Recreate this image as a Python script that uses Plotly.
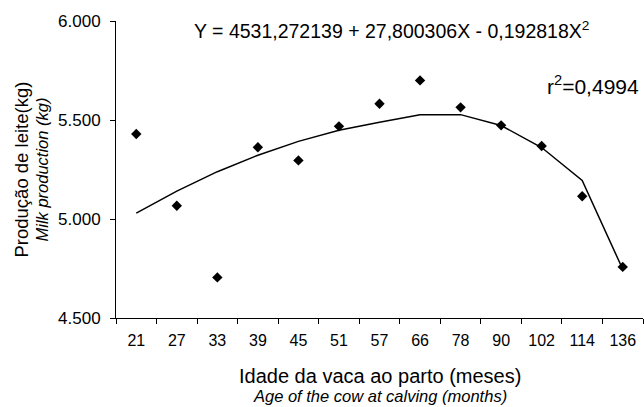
import plotly.graph_objects as go

ages = ["21", "27", "33", "39", "45", "51", "57", "66", "78", "90", "102", "114", "136"]
observed = [5429, 5067, 4705, 5362, 5296, 5468, 5582, 5700, 5564, 5473, 5369, 5115, 4758]
fitted = [5030, 5141, 5239, 5322, 5392, 5448, 5489, 5526, 5527, 5472, 5361, 5195, 4746]
y_ticks = [4500, 5000, 5500, 6000]

FONT = "Liberation Sans, Arial, sans-serif"
L, R, T, B = 116, 1, 21, 89
W, H = 644, 407
PW, PH = W - L - R, H - T - B


def px_x(p):
    return (p - L) / PW


def px_y(p):
    return (H - B - p) / PH


fig = go.Figure()
fig.add_trace(go.Scatter(x=ages, y=fitted, mode="lines",
                         line=dict(color="black", width=1.5), hoverinfo="skip"))
fig.add_trace(go.Scatter(x=ages, y=observed, mode="markers",
                         marker=dict(symbol="diamond", size=8, color="black")))

fig.update_layout(
    width=W, height=H,
    margin=dict(l=L, r=R, t=T, b=B),
    paper_bgcolor="white", plot_bgcolor="white",
    showlegend=False,
    separators=",.",
    font=dict(family=FONT, color="black", size=16),
)
fig.update_xaxes(
    type="category", range=[-0.5, 12.5],
    showline=True, linecolor="black", linewidth=1,
    ticks="outside", tickson="boundaries", ticklen=5, tickcolor="black",
    showgrid=False, zeroline=False,
    tickfont=dict(size=16, family=FONT, color="black"),
    ticklabelstandoff=8,
)
fig.update_yaxes(
    range=[4500, 6000], tickvals=y_ticks, tickformat=",d",
    showline=True, linecolor="black", linewidth=1,
    ticks="outside", ticklen=5, tickcolor="black",
    showgrid=False, zeroline=False,
    tickfont=dict(size=17, family=FONT, color="black"),
    ticklabelstandoff=6,
)

ann = [
    dict(text="Y = 4531,272139 + 27,800306X - 0,192818X<sup>2</sup>",
         x=px_x(391.5), y=px_y(29.5), size=19.5, xanchor="center", angle=0),
    dict(text="r<sup>2</sup>=0,4994",
         x=px_x(641), y=px_y(85), size=21, xanchor="right", angle=0),
    dict(text="Produção de leite(kg)",
         x=px_x(21), y=0.5, size=18.5, xanchor="center", angle=-90),
    dict(text="<i>Milk production (kg)</i>",
         x=px_x(41), y=0.5, size=16.5, xanchor="center", angle=-90),
    dict(text="Idade da vaca ao parto (meses)",
         x=0.5, y=px_y(375.5), size=20, xanchor="center", angle=0),
    dict(text="<i>Age of the cow at calving (months)</i>",
         x=0.5, y=px_y(396), size=16.5, xanchor="center", angle=0),
]
for a in ann:
    fig.add_annotation(
        text=a["text"], xref="paper", yref="paper", x=a["x"], y=a["y"],
        xanchor=a["xanchor"], yanchor="middle", textangle=a["angle"],
        showarrow=False, font=dict(size=a["size"], family=FONT, color="black"),
    )

fig.write_html(
    "out.html",
    config={"displayModeBar": False},
    post_script="document.body.style.margin='0';document.body.style.overflow='hidden';",
)
